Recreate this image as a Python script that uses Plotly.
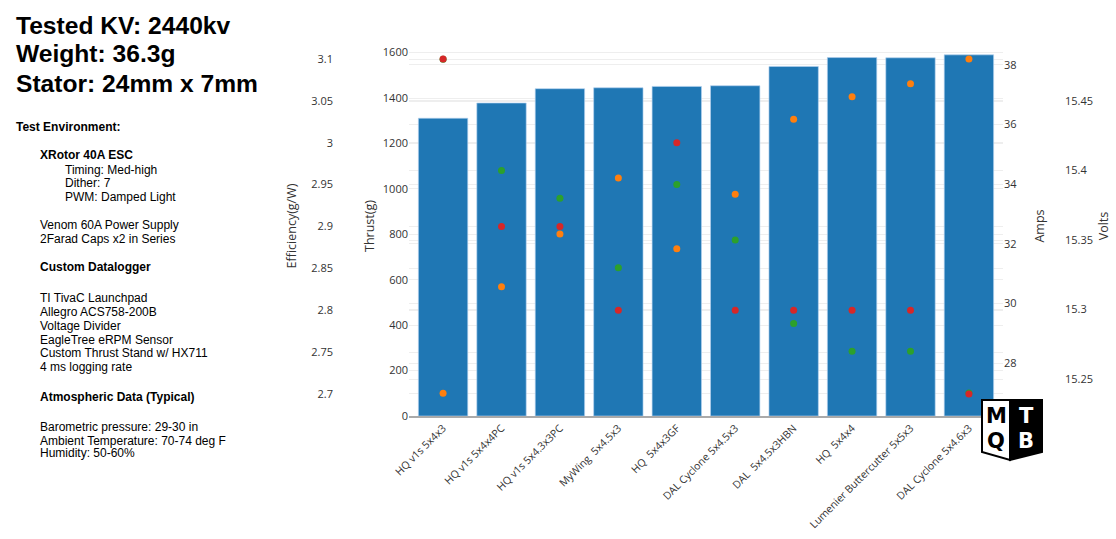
import plotly.graph_objects as go

W, H = 1116, 539

# ---------------- data ----------------
props = ["HQ v1s 5x4x3", "HQ v1s 5x4x4PC", "HQ v1s 5x4.3x3PC", "MyWing\u00a0 5x4.5x3",
         "HQ\u00a0 5x4x3GF", "DAL Cyclone 5x4.5x3", "DAL\u00a0 5x4.5x3HBN", "HQ\u00a0 5x4x4",
         "Lumenier Buttercutter 5x5x3", "DAL Cyclone 5x4.6x3"]
thrust = [1311, 1378, 1441, 1445, 1451, 1454, 1539, 1578, 1577, 1590]
efficiency = [3.1, 2.9, 2.9, 2.8, 3.0, 2.8, 2.8, 2.8, 2.8, 2.7]
amps = [27.0, 30.57, 32.33, 34.21, 31.84, 33.67, 36.18, 36.93, 37.37, 38.20]
volts = [15.48, 15.40, 15.38, 15.33, 15.39, 15.35, 15.29, 15.27, 15.27, 15.24]

header_lines = ["Tested KV: 2440kv", "Weight: 36.3g", "Stator: 24mm x 7mm"]
env_lines = [
    ("Test Environment:", 0, True),
    ("XRotor 40A ESC", 1, True),
    ("Timing: Med-high", 2, False),
    ("Dither: 7", 2, False),
    ("PWM: Damped Light", 2, False),
    ("Venom 60A Power Supply", 1, False),
    ("2Farad Caps x2 in Series", 1, False),
    ("Custom Datalogger", 1, True),
    ("TI TivaC Launchpad", 1, False),
    ("Allegro ACS758-200B", 1, False),
    ("Voltage Divider", 1, False),
    ("EagleTree eRPM Sensor", 1, False),
    ("Custom Thrust Stand w/ HX711", 1, False),
    ("4 ms logging rate", 1, False),
    ("Atmospheric Data (Typical)", 1, True),
    ("Barometric pressure: 29-30 in", 1, False),
    ("Ambient Temperature: 70-74 deg F", 1, False),
    ("Humidity: 50-60%", 1, False),
]
env_rows = [127, 155, 170, 183, 197, 225, 238.5, 267, 297.5, 311.7, 325.7, 340,
            352.7, 367, 396.7, 426.7, 440.7, 453.3]
indent_px = [14, 38, 63]


def px(x):
    return x / W


def py(y):
    return 1 - y / H


# ---------------- figure ----------------
fig = go.Figure()
fig.add_trace(go.Bar(x=props, y=thrust, marker=dict(color="#1f77b4",
                     line=dict(color="rgba(180,210,240,0.8)", width=0.8)),
                     yaxis="y", name="Thrust"))
fig.add_trace(go.Scatter(x=props, y=volts, mode="markers", yaxis="y2",
                         marker=dict(color="#2ca02c", size=7), name="Volts"))
fig.add_trace(go.Scatter(x=props, y=efficiency, mode="markers", yaxis="y3",
                         marker=dict(color="#d62728", size=7), name="Efficiency"))
fig.add_trace(go.Scatter(x=props, y=amps, mode="markers", yaxis="y4",
                         marker=dict(color="#ff7f0e", size=7), name="Amps"))

grid = "#eeeeee"
tcol = "#333"
tickf = dict(family="Open Sans, Arial", size=11, color=tcol)
titlef = dict(family="Open Sans, Arial", size=12.5, color=tcol)
dom_y = [1 - 416 / H, 1 - 36 / H]

fig.update_layout(
    template="none",
    width=W, height=H, autosize=False,
    margin=dict(l=0, r=0, t=0, b=0, pad=0),
    paper_bgcolor="white", plot_bgcolor="white",
    showlegend=False, bargap=0.155,
    font=dict(family="Open Sans, Arial", color=tcol),
    xaxis=dict(domain=[px(409), px(1003)], anchor="y", tickangle=-45, automargin=False,
               tickfont=dict(family="Open Sans, Arial", size=10.5, color=tcol),
               showline=True, linecolor="#aaaaaa", linewidth=2, showgrid=False,
               ticks=""),
    yaxis=dict(domain=dom_y, range=[0, 1673], dtick=200, side="left", automargin=False,
               title=dict(text="Thrust(g)", font=titlef), tickfont=tickf,
               showgrid=True, gridcolor=grid, zeroline=False, showline=False, ticks=""),
    yaxis2=dict(domain=dom_y, overlaying="y", side="right", anchor="free", automargin=False,
                position=px(1064), range=[15.2234, 15.4968], dtick=0.05,
                title=dict(text="Volts", font=titlef), tickfont=tickf, ticks="",
                showgrid=True, gridcolor=grid, zeroline=False, showline=False),
    yaxis3=dict(domain=dom_y, overlaying="y", side="left", anchor="free", automargin=False,
                position=px(333), range=[2.6737, 3.1275], dtick=0.05,
                title=dict(text="Efficiency(g/W)", font=titlef, standoff=10), tickfont=tickf,
                ticks="", showgrid=True, gridcolor=grid, zeroline=False, showline=False),
    yaxis4=dict(domain=dom_y, overlaying="y", side="right", anchor="x", automargin=False,
                range=[26.234, 38.97], dtick=2,
                title=dict(text="Amps", font=titlef), tickfont=tickf, ticks="",
                showgrid=True, gridcolor=grid, zeroline=False, showline=False),
)

annotations = []
for i, t in enumerate(header_lines):
    annotations.append(dict(text="<b>%s</b>" % t, x=px(14), y=py(25 + 29 * i),
                            xref="paper", yref="paper", xanchor="left", yanchor="middle",
                            showarrow=False,
                            font=dict(family="Arial, Liberation Sans", size=24.6, color="black")))
for (t, lvl, bold), row in zip(env_lines, env_rows):
    annotations.append(dict(text=("<b>%s</b>" % t) if bold else t,
                            x=px(indent_px[lvl]), y=py(row),
                            xref="paper", yref="paper", xanchor="left", yanchor="middle",
                            showarrow=False,
                            font=dict(family="Arial, Liberation Sans", size=12, color="black")))

# logo
logo_font = dict(family="DejaVu Sans, Arial", size=21)
for t, x, y, c in [("M", 996, 416, "black"), ("Q", 996, 441, "black"),
                   ("T", 1026, 416, "white"), ("B", 1026, 441, "white")]:
    annotations.append(dict(text="<b>%s</b>" % t, x=px(x), y=py(y), xref="paper", yref="paper",
                            xanchor="center", yanchor="middle", showarrow=False,
                            font=dict(logo_font, color=c)))
fig.update_layout(annotations=annotations)


def path(pts):
    return "M " + " L ".join("%f,%f" % (px(a), py(b)) for a, b in pts) + " Z"


fig.add_shape(type="path", xref="paper", yref="paper",
              path=path([(982, 400), (1010, 400), (1010, 460), (982, 452)]),
              fillcolor="white", line=dict(color="black", width=2), layer="above")
fig.add_shape(type="path", xref="paper", yref="paper",
              path=path([(1010, 400), (1042, 400), (1042, 452), (1010, 460)]),
              fillcolor="black", line=dict(color="black", width=2), layer="above")
fig.write_html("out.html", config={"displayModeBar": False},
               post_script="document.body.style.margin='0';")
